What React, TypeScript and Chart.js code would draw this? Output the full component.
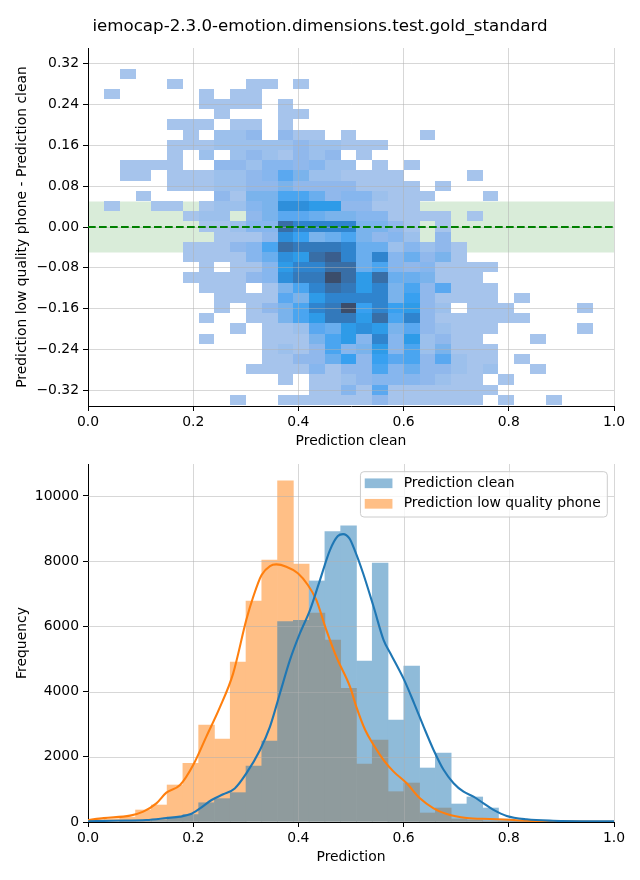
import React, { useEffect, useRef } from "react";
import { Chart, registerables } from "chart.js";

Chart.register(...registerables);

const FONT = "'DejaVu Sans', 'Liberation Sans', sans-serif";
Chart.defaults.font.family = FONT;
Chart.defaults.color = "#000";

// ---------- texts ----------
const chartTitle = "iemocap-2.3.0-emotion.dimensions.test.gold_standard";
const heatXLabel = "Prediction clean";
const heatYLabel = "Prediction low quality phone - Prediction clean";
const histXLabel = "Prediction";
const histYLabel = "Frequency";
const seriesLabels = ["Prediction clean", "Prediction low quality phone"];

// ---------- ticks ----------
const xTicks = [0, 0.2, 0.4, 0.6, 0.8, 1.0];
const heatYTicks = [-0.32, -0.24, -0.16, -0.08, 0, 0.08, 0.16, 0.24, 0.32];
const histYTicks = [0, 2000, 4000, 6000, 8000, 10000];

// ---------- bins ----------
const binEdges = [
  0.0004, 0.0304, 0.0604, 0.0904, 0.1204, 0.1504, 0.1804, 0.2104, 0.2404, 0.2704,
  0.3004, 0.3304, 0.3604, 0.3904, 0.4204, 0.4504, 0.4804, 0.5104, 0.5404, 0.5704,
  0.6004, 0.6304, 0.6604, 0.6904, 0.7204, 0.7504, 0.7804, 0.8104, 0.8404, 0.8704,
  0.9004, 0.9304, 0.9604,
];
const heatXEdges = [
  0.0304, 0.0604, 0.0904, 0.1204, 0.1504, 0.1804, 0.2104, 0.2404, 0.2704, 0.3004,
  0.3304, 0.3604, 0.3904, 0.4204, 0.4504, 0.4804, 0.5104, 0.5404, 0.5704, 0.6004,
  0.6304, 0.6604, 0.6904, 0.7204, 0.7504, 0.7804, 0.8104, 0.8404, 0.8704, 0.9004,
  0.9304, 0.9604,
];
const heatYEdges = [
  0.3108, 0.2908, 0.2708, 0.2508, 0.2308, 0.2108, 0.1908, 0.1708, 0.1508, 0.1308,
  0.1108, 0.0908, 0.0708, 0.0508, 0.0308, 0.0108, -0.0092, -0.0292, -0.0492, -0.0692,
  -0.0892, -0.1092, -0.1292, -0.1492, -0.1692, -0.1892, -0.2092, -0.2292, -0.2492, -0.2692,
  -0.2892, -0.3092, -0.3292, -0.3492,
];

// ---------- heatmap density levels (rows top->bottom, cols left->right) ----------
const heatLevels = [
  [0,1,0,0,0,0,0,0,0,0, 0,0,0,0,0,0,0,0,0,0, 0,0,0,0,0,0,0,0,0,0,0],
  [0,0,0,0,1,0,0,0,0,1, 1,0,1,0,0,0,0,0,0,0, 0,0,0,0,0,0,0,0,0,0,0],
  [1,0,0,0,0,0,1,0,1,1, 0,0,0,0,0,0,0,0,0,0, 0,0,0,0,0,0,0,0,0,0,0],
  [0,0,0,0,0,0,1,1,1,1, 0,1,0,0,0,0,0,0,0,0, 0,0,0,0,0,0,0,0,0,0,0],
  [0,0,0,0,0,0,0,1,0,0, 0,1,1,0,0,0,0,0,0,0, 0,0,0,0,0,0,0,0,0,0,0],
  [0,0,0,0,1,1,1,0,1,1, 0,1,0,0,0,0,0,0,0,0, 0,0,0,0,0,0,0,0,0,0,0],
  [0,0,0,0,0,1,0,2,2,3, 0,3,1,1,0,1,0,0,0,0, 1,0,0,0,0,0,0,0,0,0,0],
  [0,0,0,0,1,1,1,2,2,2, 2,2,3,2,2,1,1,1,0,0, 0,0,0,0,0,0,0,0,0,0,0],
  [0,0,0,0,1,0,2,0,2,3, 2,1,3,2,3,0,1,0,0,0, 0,0,0,0,0,0,0,0,0,0,0],
  [0,1,1,1,1,0,0,3,3,2, 4,4,3,4,2,2,0,1,0,1, 0,0,0,0,0,0,0,0,0,0,0],
  [0,1,1,0,1,1,1,2,2,3, 4,7,5,2,2,1,1,1,1,0, 0,0,0,1,0,0,0,0,0,0,0],
  [0,0,0,0,1,1,1,2,2,3, 3,5,3,3,3,3,1,1,1,1, 0,1,0,0,0,0,0,0,0,0,0],
  [0,0,1,0,0,0,0,3,1,5, 5,8,8,6,3,4,4,2,1,1, 1,0,0,0,1,0,0,0,0,0,0],
  [1,0,0,1,1,0,1,2,2,4, 5,11,11,10,10,3,3,1,1,1, 0,0,0,0,0,0,0,0,0,0,0],
  [0,0,0,0,0,1,2,2,0,3, 5,7,7,6,5,5,4,4,1,1, 1,1,0,1,0,0,0,0,0,0,0],
  [0,0,0,0,0,0,1,1,2,4, 4,14,12,12,12,12,5,5,3,1, 0,1,0,0,0,0,0,0,0,0,0],
  [0,0,0,0,0,0,0,1,1,1, 3,11,9,5,6,8,5,3,4,2, 0,3,0,0,0,0,0,0,0,0,0],
  [0,0,0,0,0,1,1,1,3,4, 8,14,13,13,13,12,6,6,2,4, 2,3,1,0,0,0,0,0,0,0,0],
  [0,0,0,0,0,1,1,1,1,4, 6,11,10,14,15,12,6,12,4,6, 3,5,1,0,0,0,0,0,0,0,0],
  [0,0,0,0,0,0,1,0,1,1, 4,10,12,12,14,14,6,8,4,3, 4,1,1,1,1,0,0,0,0,0,0],
  [0,0,0,0,0,1,1,1,1,3, 4,11,13,13,16,14,10,14,6,6, 5,1,1,1,0,0,0,0,0,0,0],
  [0,0,0,0,0,0,1,1,1,0, 1,5,8,12,14,13,10,12,5,8, 3,7,1,1,1,0,0,0,0,0,0],
  [0,0,0,0,0,0,0,1,1,1, 1,7,5,10,12,12,12,12,5,9, 3,1,1,1,1,0,1,0,0,0,0],
  [0,0,0,0,0,0,0,1,0,1, 3,5,8,12,13,16,9,12,9,10, 3,2,0,1,1,1,0,0,0,0,1],
  [0,0,0,0,0,0,1,0,0,1, 1,5,8,10,13,13,10,14,8,12, 3,1,1,1,1,1,1,0,0,0,0],
  [0,0,0,0,0,0,0,0,1,0, 1,1,2,7,6,10,11,10,5,7, 3,2,1,1,1,0,0,0,0,0,1],
  [0,0,0,0,0,0,1,0,0,0, 1,1,1,5,8,10,4,12,4,10, 2,3,1,1,0,0,0,1,0,0,0],
  [0,0,0,0,0,0,0,0,0,0, 1,2,1,3,8,4,5,10,4,8, 2,5,1,1,1,0,0,0,0,0,0],
  [0,0,0,0,0,0,0,0,0,0, 1,1,3,3,6,9,3,9,7,8, 3,7,2,1,1,0,1,0,0,0,0],
  [0,0,0,0,0,0,0,0,0,1, 1,1,1,4,1,3,3,8,4,6, 3,3,2,1,2,0,0,1,0,0,0],
  [0,0,0,0,0,0,0,0,0,0, 0,1,0,1,1,2,3,4,4,4, 3,2,1,1,0,1,0,0,0,0,0],
  [0,0,0,0,0,0,0,0,0,0, 0,0,0,1,1,4,1,7,1,1, 1,1,1,1,1,0,0,0,0,0,0],
  [0,0,0,0,0,0,0,0,1,0, 0,1,1,1,1,1,1,3,1,1, 1,1,1,1,0,1,0,0,1,0,0],
];
const heatPalette = [
  "#a6c4ec", "#9cc0ec", "#90b8ec", "#86b6ee", "#7ab3ec", "#6aaeee", "#5aa8f0", "#4aa5f0",
  "#38a0f0", "#2e9be8", "#2e8fdb", "#2f84ce", "#3379bb", "#386ea6", "#3a5e8d", "#3b4d6b",
];
const toleranceBand = [-0.05, 0.05];
const referenceLineX = [0, 1];
const referenceLineY = [0, 0];

// ---------- histogram ----------
const cleanCounts = [
  0, 0, 10, 20, 50, 160, 230, 590, 716, 900, 1718, 2485, 6145, 6186, 7393, 8906,
  9080, 4939, 7945, 3129, 4785, 1656, 2117, 552, 767, 429, 90, 20, 10, 5, 0, 5,
];
const phoneCounts = [
  60, 80, 150, 368, 521, 1135, 1800, 2975, 2546, 4908, 6779, 8037, 10460, 7914, 6411, 5583,
  4100, 1779, 2515, 930, 1196, 276, 429, 92, 60, 30, 10, 5, 0, 0, 0, 0,
];
const cleanKdeX = [
  0, 0.048, 0.111, 0.149, 0.175, 0.194, 0.213, 0.235, 0.257, 0.279, 0.301, 0.327, 0.346,
  0.365, 0.384, 0.403, 0.422, 0.441, 0.46, 0.475, 0.485, 0.497, 0.507, 0.523, 0.543, 0.562,
  0.575, 0.601, 0.62, 0.638, 0.657, 0.676, 0.695, 0.714, 0.733, 0.752, 0.771, 0.796, 0.834,
  0.884, 1.0,
];
const cleanKdeY = [
  20, 40, 60, 120, 165, 235, 420, 675, 850, 1030, 1490, 2210, 2925,
  3950, 4970, 5790, 6500, 7420, 8340, 8770, 8830, 8700, 8340, 7630, 6600, 5580,
  5170, 4360, 3640, 2925, 2210, 1600, 1190, 930, 780, 570, 370, 185, 82,
  40, 20,
];
const phoneKdeX = [
  0, 0.03, 0.08, 0.105, 0.13, 0.149, 0.175, 0.2, 0.225, 0.25, 0.276, 0.301, 0.314, 0.33,
  0.346, 0.358, 0.377, 0.399, 0.418, 0.434, 0.453, 0.472, 0.498, 0.51, 0.527, 0.543, 0.562,
  0.581, 0.606, 0.631, 0.657, 0.682, 0.72, 0.764, 0.809, 0.846, 0.922, 1.0,
];
const phoneKdeY = [
  60, 120, 195, 317, 570, 900, 1135, 1750, 2620, 3490, 4560, 6200, 6900, 7575,
  7850, 7900, 7830, 7630, 7270, 6810, 5890, 5070, 4150, 3540, 2820, 2360, 1900,
  1545, 1186, 726, 420, 245, 123, 92, 60, 30, 10, 5,
];

// ---------- styles ----------
const BLUE = "#1f77b4";
const ORANGE = "#ff7f0e";
const BLUE_FILL = "rgba(31,119,180,0.5)";
const ORANGE_FILL = "rgba(255,127,14,0.5)";
// the same half-transparent fills composited on white / on each other
const BLUE_ON_WHITE = "rgb(143,187,217)";
const ORANGE_ON_WHITE = "rgb(255,191,134)";
const BLUE_ON_ORANGE = "rgb(143,155,157)";
const GRID_COLOR = "rgba(176,176,176,0.5)";
const TICK_FONT = { family: FONT, size: 13.9 };
const gridOpts = {
  color: GRID_COLOR,
  lineWidth: 1,
  drawTicks: true,
  tickLength: 5,
  tickColor: "#000",
  tickWidth: 1,
};
const borderOpts = { display: true, color: "#000", width: 1 };

const fixY = (w: number) => (s: any) => {
  s.width = w;
  s.paddingTop = 0;
  s.paddingBottom = 0;
};
const fixX = (h: number) => (s: any) => {
  s.height = h;
  s.paddingLeft = 0;
  s.paddingRight = 0;
};
const setTicks = (vals: number[]) => (s: any) => {
  s.ticks = vals.map((v) => ({ value: v }));
};
const fmtSigned = (v: number) => {
  const s = Math.abs(v).toFixed(2);
  return v < -1e-9 ? "\u2212" + s : s;
};

const titlePlugin = {
  id: "figTitle",
  afterDraw(chart: any) {
    const { ctx } = chart;
    ctx.save();
    ctx.font = `16.67px ${FONT}`;
    ctx.fillStyle = "#000";
    ctx.textAlign = "center";
    ctx.textBaseline = "middle";
    ctx.fillText(chartTitle, chart.width / 2, 26.5);
    ctx.restore();
  },
};

const heatmapPlugin = {
  id: "heatmapCells",
  beforeDraw(chart: any) {
    const { ctx, chartArea: a } = chart;
    const xs = chart.scales.x;
    const ys = chart.scales.y;
    ctx.save();
    ctx.beginPath();
    ctx.rect(a.left, a.top, a.right - a.left, a.bottom - a.top);
    ctx.clip();
    const bTop = ys.getPixelForValue(toleranceBand[1]);
    const bBot = ys.getPixelForValue(toleranceBand[0]);
    ctx.fillStyle = "rgba(0,128,0,0.15)";
    ctx.fillRect(a.left, bTop, a.right - a.left, bBot - bTop);
    heatLevels.forEach((row, r) => {
      row.forEach((lvl, k) => {
        if (!lvl) return;
        const x0 = Math.round(xs.getPixelForValue(heatXEdges[k]));
        const x1 = Math.round(xs.getPixelForValue(heatXEdges[k + 1]));
        const y0 = Math.round(ys.getPixelForValue(heatYEdges[r]));
        const y1 = Math.round(ys.getPixelForValue(heatYEdges[r + 1]));
        ctx.fillStyle = heatPalette[lvl - 1];
        ctx.fillRect(x0, y0, x1 - x0, y1 - y0);
      });
    });
    ctx.restore();
  },
};

// grid lines drawn over the bars but under the KDE lines (as matplotlib does)
const LAST_BAR_DATASET = 2;
const gridOverBarsPlugin = {
  id: "gridOverBars",
  afterDatasetDraw(chart: any, args: any) {
    if (args.index !== LAST_BAR_DATASET) return;
    const { ctx, chartArea: a } = chart;
    const xs = chart.scales.x;
    const ys = chart.scales.y;
    ctx.save();
    ctx.lineWidth = 1;
    ctx.strokeStyle = GRID_COLOR;
    ctx.beginPath();
    xs.ticks.forEach((t: any) => {
      if (t.value === xs.min) return;
      const px = Math.round(xs.getPixelForValue(t.value)) + 0.5;
      ctx.moveTo(px, a.top);
      ctx.lineTo(px, a.bottom);
    });
    ys.ticks.forEach((t: any) => {
      if (t.value === ys.min) return;
      const py = Math.round(ys.getPixelForValue(t.value)) + 0.5;
      ctx.moveTo(a.left, py);
      ctx.lineTo(a.right, py);
    });
    ctx.stroke();
    // keep the bottom spine crisp above the bars
    ctx.strokeStyle = "#000";
    ctx.beginPath();
    const by = Math.round(a.bottom) + 0.5;
    ctx.moveTo(a.left, by);
    ctx.lineTo(a.right, by);
    ctx.stroke();
    ctx.restore();
  },
};

const legendPlugin = {
  id: "mplLegend",
  afterDraw(chart: any) {
    const { ctx, chartArea } = chart;
    ctx.save();
    ctx.font = `13.9px ${FONT}`;
    const textW = Math.max(...seriesLabels.map((t) => ctx.measureText(t).width));
    const w = 43.3 + textW + 6.6;
    const h = 45.3;
    const right = chartArea.right - 6.7;
    const left = right - w;
    const top = chartArea.top + 7.7;
    const r = 3.5;
    ctx.beginPath();
    ctx.moveTo(left + r, top);
    ctx.lineTo(right - r, top);
    ctx.quadraticCurveTo(right, top, right, top + r);
    ctx.lineTo(right, top + h - r);
    ctx.quadraticCurveTo(right, top + h, right - r, top + h);
    ctx.lineTo(left + r, top + h);
    ctx.quadraticCurveTo(left, top + h, left, top + h - r);
    ctx.lineTo(left, top + r);
    ctx.quadraticCurveTo(left, top, left + r, top);
    ctx.closePath();
    ctx.fillStyle = "rgba(255,255,255,0.8)";
    ctx.fill();
    ctx.strokeStyle = "#cccccc";
    ctx.lineWidth = 1;
    ctx.stroke();
    const fills = [BLUE_FILL, ORANGE_FILL];
    seriesLabels.forEach((t, i) => {
      const cy = top + 11.6 + i * 20.5;
      ctx.fillStyle = fills[i];
      ctx.fillRect(left + 4.3, cy - 4.85, 27.7, 9.7);
      ctx.fillStyle = "#000";
      ctx.textBaseline = "middle";
      ctx.textAlign = "left";
      ctx.fillText(t, left + 43.3, cy);
    });
    ctx.restore();
  },
};

export default function App() {
  const topRef = useRef<HTMLCanvasElement>(null);
  const botRef = useRef<HTMLCanvasElement>(null);

  useEffect(() => {
    const c1 = new Chart(topRef.current as HTMLCanvasElement, {
      type: "line",
      data: {
        datasets: [
          {
            data: referenceLineX.map((x, i) => ({ x, y: referenceLineY[i] })),
            borderColor: "#008000",
            borderWidth: 2.1,
            borderDash: [7.7, 3.3],
            pointRadius: 0,
            fill: false,
          },
        ],
      },
      options: {
        responsive: false,
        animation: false,
        devicePixelRatio: 1,
        layout: { padding: { left: 0, right: 26, top: 48, bottom: 0 } },
        plugins: {
          legend: { display: false },
          tooltip: { enabled: false },
          title: { display: false },
        },
        scales: {
          x: {
            type: "linear",
            min: 0,
            max: 1,
            afterBuildTicks: setTicks(xTicks),
            afterFit: fixX(54),
            ticks: {
              callback: (v: any) => Number(v).toFixed(1),
              color: "#000",
              font: TICK_FONT,
              padding: 3,
              maxRotation: 0,
              autoSkip: false,
            },
            grid: gridOpts,
            border: borderOpts,
            title: {
              display: true,
              text: heatXLabel,
              color: "#000",
              font: TICK_FONT,
              padding: { top: 0, bottom: 10.7 },
            },
          },
          y: {
            type: "linear",
            min: -0.351,
            max: 0.351,
            afterBuildTicks: setTicks(heatYTicks),
            afterFit: fixY(88),
            ticks: {
              callback: (v: any) => fmtSigned(Number(v)),
              color: "#000",
              font: TICK_FONT,
              padding: 4,
              autoSkip: false,
            },
            grid: gridOpts,
            border: borderOpts,
            title: {
              display: true,
              text: heatYLabel,
              color: "#000",
              font: TICK_FONT,
              padding: { top: 13.7, bottom: 0 },
            },
          },
        },
      } as any,
      plugins: [heatmapPlugin, titlePlugin],
    });

    const centers = binEdges.slice(0, -1).map((e, i) => (e + binEdges[i + 1]) / 2);
    const barCommon = {
      type: "bar",
      borderWidth: 0,
      barPercentage: 1,
      categoryPercentage: 1,
      grouped: false,
      order: 1,
    };
    const c2 = new Chart(botRef.current as HTMLCanvasElement, {
      type: "bar",
      data: {
        datasets: [
          {
            type: "line",
            label: "kde clean",
            data: cleanKdeX.map((x, i) => ({ x, y: cleanKdeY[i] })),
            borderColor: BLUE,
            borderWidth: 2.1,
            pointRadius: 0,
            cubicInterpolationMode: "monotone",
            fill: false,
            order: 0,
          },
          {
            type: "line",
            label: "kde phone",
            data: phoneKdeX.map((x, i) => ({ x, y: phoneKdeY[i] })),
            borderColor: ORANGE,
            borderWidth: 2.1,
            pointRadius: 0,
            cubicInterpolationMode: "monotone",
            fill: false,
            order: 0,
          },
          {
            ...barCommon,
            label: "overlap",
            data: centers.map((x, i) => {
              const m = Math.min(cleanCounts[i], phoneCounts[i]);
              return { x, y: m > 0 ? [0, m] : null };
            }),
            backgroundColor: BLUE_ON_ORANGE,
          },
          {
            ...barCommon,
            label: seriesLabels[0],
            data: centers.map((x, i) => ({
              x,
              y: cleanCounts[i] > phoneCounts[i] ? [phoneCounts[i], cleanCounts[i]] : null,
            })),
            backgroundColor: BLUE_ON_WHITE,
          },
          {
            ...barCommon,
            label: seriesLabels[1],
            data: centers.map((x, i) => ({
              x,
              y: phoneCounts[i] > cleanCounts[i] ? [cleanCounts[i], phoneCounts[i]] : null,
            })),
            backgroundColor: ORANGE_ON_WHITE,
          },
        ],
      } as any,
      options: {
        responsive: false,
        animation: false,
        devicePixelRatio: 1,
        layout: { padding: { left: 0, right: 26, top: 4, bottom: 0 } },
        plugins: {
          legend: { display: false },
          tooltip: { enabled: false },
          title: { display: false },
        },
        scales: {
          x: {
            type: "linear",
            min: 0,
            max: 1,
            offset: false,
            afterBuildTicks: setTicks(xTicks),
            afterFit: fixX(58),
            ticks: {
              callback: (v: any) => Number(v).toFixed(1),
              color: "#000",
              font: TICK_FONT,
              padding: 3,
              maxRotation: 0,
              autoSkip: false,
            },
            grid: { ...gridOpts, offset: false, drawOnChartArea: false },
            border: borderOpts,
            title: {
              display: true,
              text: histXLabel,
              color: "#000",
              font: TICK_FONT,
              padding: { top: 0, bottom: 14.7 },
            },
          },
          y: {
            type: "linear",
            min: 0,
            max: 10980,
            afterBuildTicks: setTicks(histYTicks),
            afterFit: fixY(88),
            ticks: {
              callback: (v: any) => String(Math.round(Number(v))),
              color: "#000",
              font: TICK_FONT,
              padding: 4,
              autoSkip: false,
            },
            grid: { ...gridOpts, drawOnChartArea: false },
            border: borderOpts,
            title: {
              display: true,
              text: histYLabel,
              color: "#000",
              font: TICK_FONT,
              padding: { top: 13.7, bottom: 0 },
            },
          },
        },
      } as any,
      plugins: [gridOverBarsPlugin, legendPlugin],
    });

    return () => {
      c1.destroy();
      c2.destroy();
    };
  }, []);

  return (
    <div
      style={{
        position: "absolute",
        left: 0,
        top: 0,
        width: 640,
        height: 880,
        background: "#fff",
      }}
    >
      <canvas
        ref={topRef}
        width={640}
        height={460}
        style={{ position: "absolute", left: 0, top: 0, width: 640, height: 460 }}
      />
      <canvas
        ref={botRef}
        width={640}
        height={420}
        style={{ position: "absolute", left: 0, top: 460, width: 640, height: 420 }}
      />
    </div>
  );
}
